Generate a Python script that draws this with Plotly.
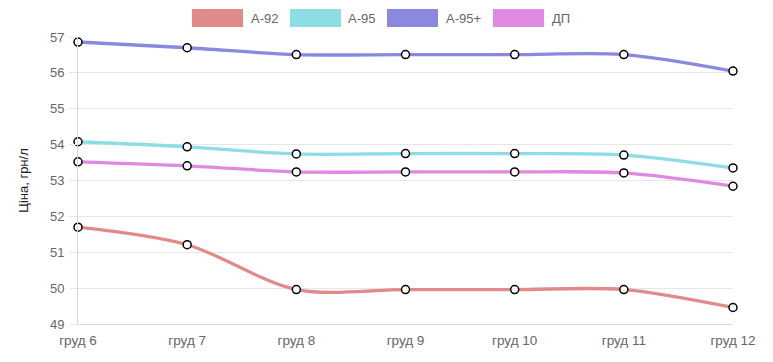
import plotly.graph_objects as go

categories = ["груд 6", "груд 7", "груд 8", "груд 9", "груд 10", "груд 11", "груд 12"]
a92 = [51.70, 51.21, 49.96, 49.96, 49.96, 49.96, 49.46]
a95 = [54.08, 53.94, 53.74, 53.75, 53.75, 53.71, 53.35]
a95p = [56.86, 56.70, 56.51, 56.51, 56.51, 56.51, 56.05]
dp = [53.52, 53.41, 53.24, 53.24, 53.24, 53.21, 52.84]

series = [
    ("А-92", a92, "rgb(224,138,138)"),
    ("А-95", a95, "rgb(141,222,228)"),
    ("А-95+", a95p, "rgb(137,137,224)"),
    ("ДП", dp, "rgb(224,137,224)"),
]

FONT = "Liberation Sans, Arial, sans-serif"
fig = go.Figure()
for name, vals, col in series:
    fig.add_trace(go.Scatter(
        x=categories, y=vals, name=name, mode="lines+markers",
        line=dict(color=col, width=3.3, shape="spline", smoothing=0.9),
        marker=dict(size=8, color="white", line=dict(color="black", width=1.5)),
        showlegend=False, cliponaxis=False,
    ))

# custom legend (Chart.js style wide boxes)
legend_items = [(192, 243, 249), (290, 341, 346), (387, 438, 444), (493, 544, 550)]
shapes = []
annotations = []
for (x0, x1, tx), (name, vals, col) in zip(legend_items, series):
    shapes.append(dict(type="rect", xref="paper", yref="paper",
                       x0=(x0 - 78) / 655, x1=(x1 - 78) / 655,
                       y0=(324 - 27) / 287, y1=(324 - 9) / 287,
                       fillcolor=col, line=dict(width=0)))
    annotations.append(dict(xref="paper", yref="paper", x=(tx - 78) / 655,
                            y=(324 - 18) / 287, text=name, showarrow=False,
                            xanchor="left", yanchor="middle",
                            font=dict(family=FONT, size=13, color="#666")))

fig.update_layout(
    width=773, height=362,
    margin=dict(l=78, r=40, t=37, b=38),
    plot_bgcolor="white", paper_bgcolor="white",
    font=dict(family=FONT, size=13, color="#666"),
    shapes=shapes, annotations=annotations,
    xaxis=dict(range=[0, 6], showgrid=False, showline=True, linecolor="#d9d9d9",
               linewidth=1, ticks="", tickfont=dict(size=13.5, color="#666"),
               ticklabelstandoff=4, zeroline=False),
    yaxis=dict(range=[49, 57], dtick=1, showgrid=True, gridcolor="#e6e6e6",
               showline=True, linecolor="#d9d9d9", ticks="outside", ticklen=8,
               tickcolor="#e6e6e6", tickfont=dict(size=13, color="#666"),
               ticklabelstandoff=2, zeroline=False,
               title=dict(text="Ціна, грн/л", font=dict(size=13, color="#222"), standoff=18)),
)

fig.write_html("out.html", config={"displayModeBar": False},
               post_script="document.body.style.margin='0';")
